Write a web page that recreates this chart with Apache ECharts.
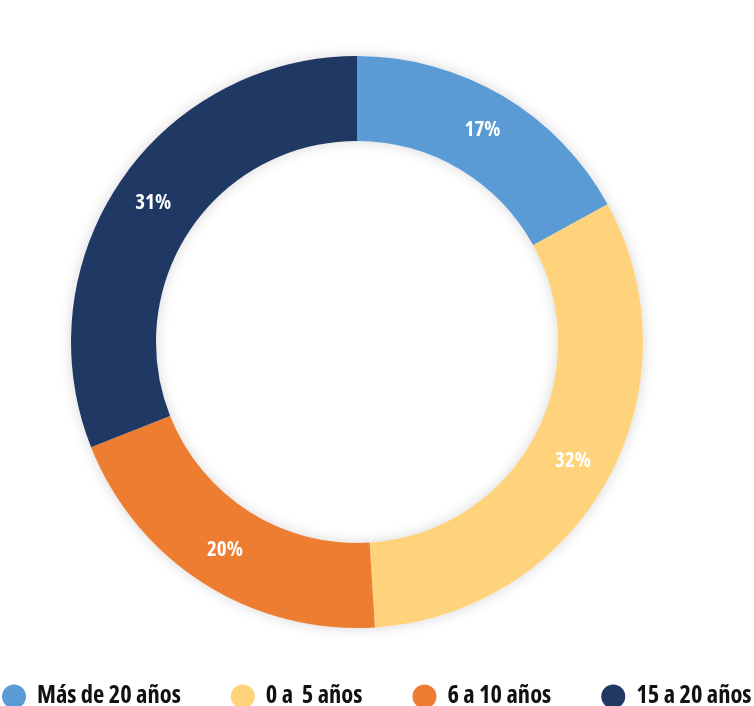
<!DOCTYPE html>
<html>
<head>
<meta charset="utf-8">
<script src="https://cdn.jsdelivr.net/npm/echarts@6/dist/echarts.min.js"></script>
<style>
html,body{margin:0;padding:0;background:#fff;}
#c{width:754px;height:706px;}
</style>
</head>
<body>
<div id="c"></div>
<script>
const categories = ['Más de 20 años', '0 a  5 años', '6 a 10 años', '15 a 20 años'];
const values = [17, 32, 20, 31];
const colors = ['#5B9BD5', '#FED37B', '#ED7D31', '#203864'];

const FONT = '"Open Sans", "Noto Sans", sans-serif';
const WEIGHT = 'condensed bold';
const chart = echarts.init(document.getElementById('c'), null, {renderer: 'canvas'});
const data = categories.map((name, i) => ({name: name, value: values[i], itemStyle: {color: colors[i]}}));

chart.setOption({
  animation: false,
  backgroundColor: '#ffffff',
  legend: {
    data: categories,
    left: 2,
    top: 684,
    width: 900,
    icon: 'circle',
    itemWidth: 24,
    itemHeight: 24,
    itemGap: 50,
    padding: 0,
    textStyle: {
      fontFamily: FONT,
      fontWeight: WEIGHT,
      fontSize: 24.5,
      color: '#111111',
      padding: [0, 0, 0, 6]
    }
  },
  series: [
    {
      type: 'pie',
      silent: true,
      center: [357, 342],
      radius: [201, 286],
      label: {show: false},
      labelLine: {show: false},
      itemStyle: {color: '#ffffff', shadowBlur: 14, shadowColor: 'rgba(0,0,0,0.16)'},
      data: [{name: '_bg', value: 1}],
      z: 1
    },
    {
      type: 'pie',
      center: [357, 342],
      radius: [201, 286],
      startAngle: 90,
      clockwise: true,
      avoidLabelOverlap: false,
      label: {
        show: true,
        position: 'inside',
        formatter: '{c}%',
        color: '#ffffff',
        fontFamily: FONT,
        fontWeight: WEIGHT,
        fontSize: 21
      },
      labelLine: {show: false},
      itemStyle: {borderWidth: 0},
      emphasis: {disabled: true},
      data: data,
      z: 2
    }
  ]
});
</script>
</body>
</html>
